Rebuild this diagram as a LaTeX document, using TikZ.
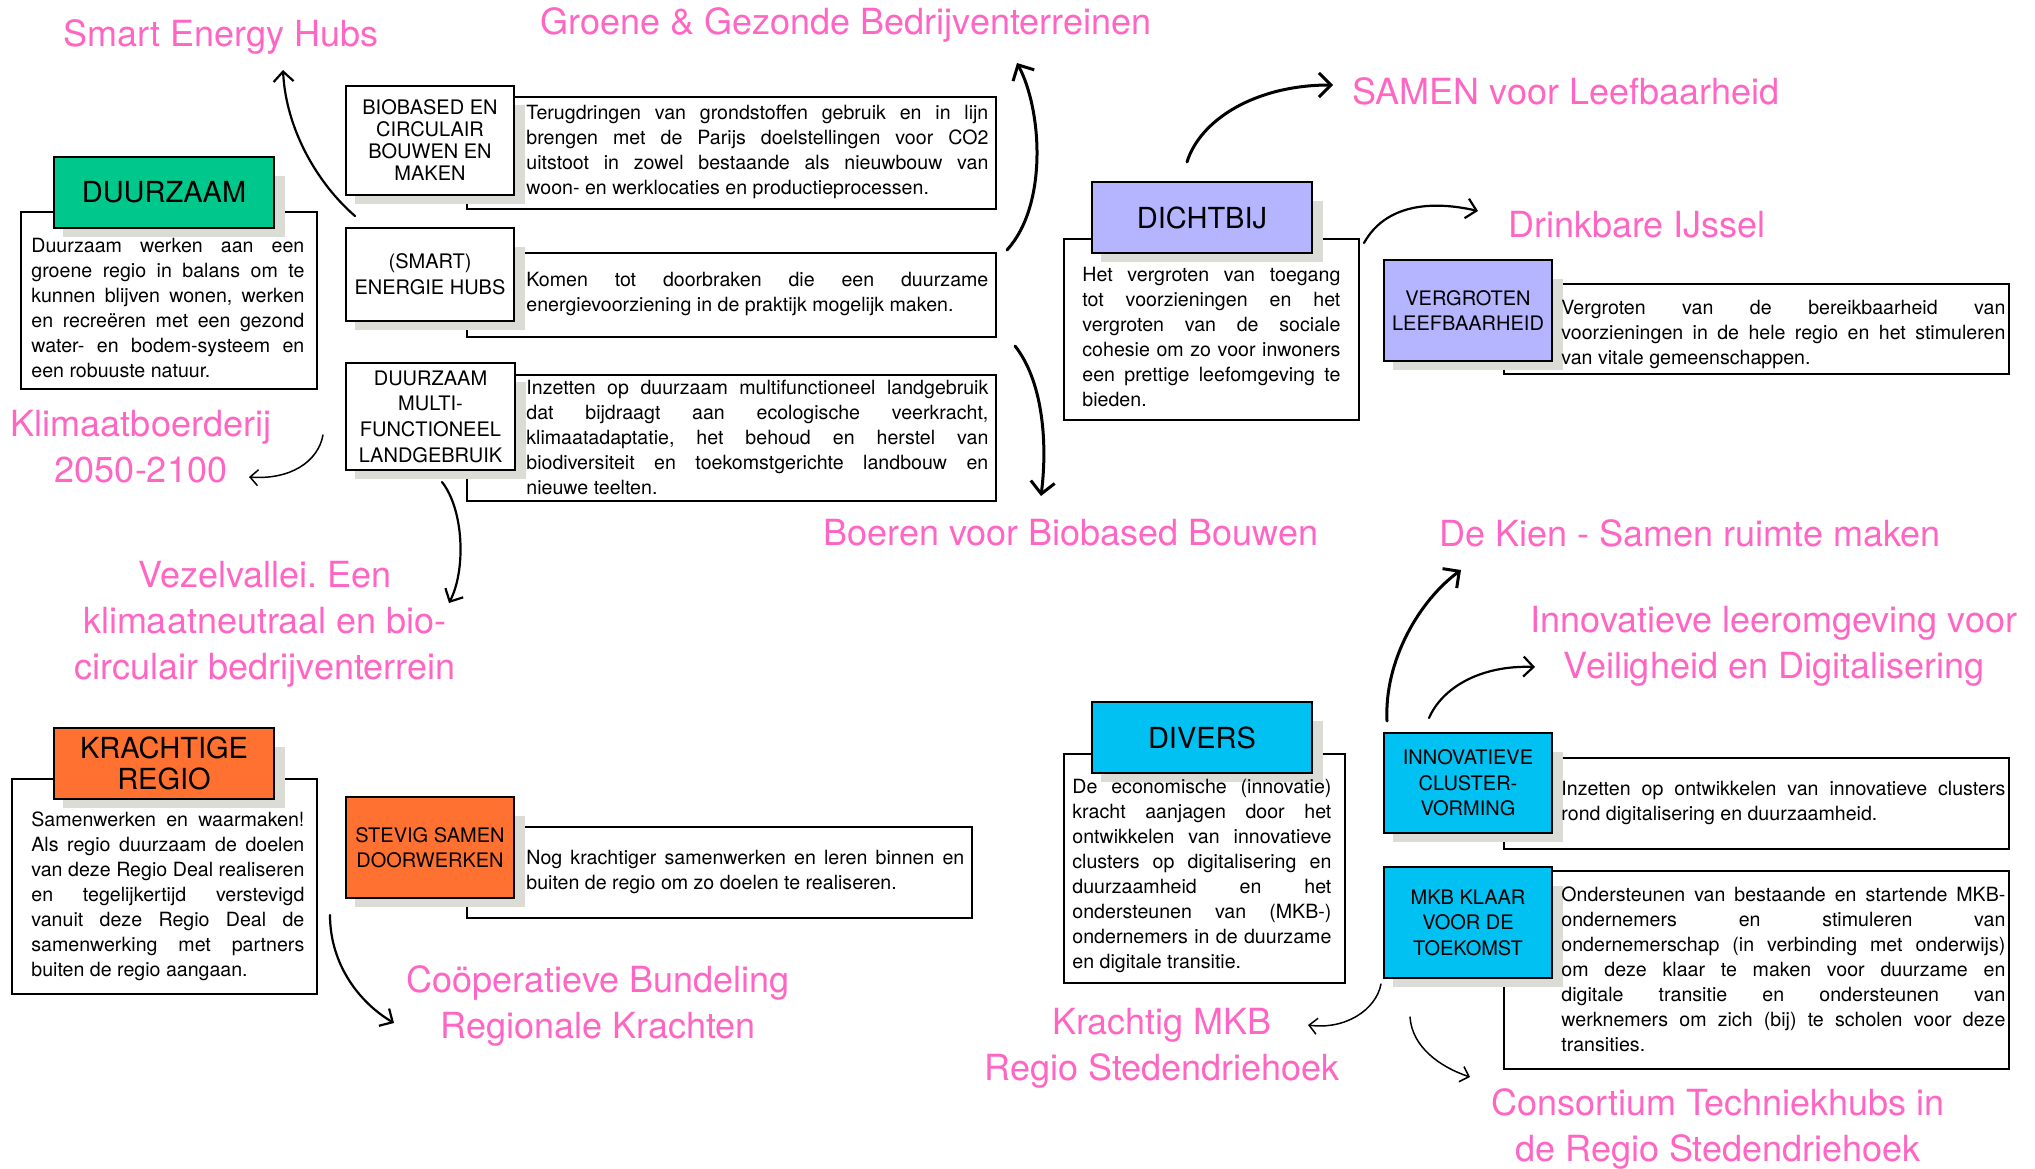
\documentclass[tikz,border=0pt]{standalone}
\usepackage{fontspec}
\setmainfont{TeX Gyre Heros}
\usepackage{tikz}
\usetikzlibrary{positioning,arrows.meta,calc}
\definecolor{roze}{HTML}{FF66C4}
\definecolor{groen}{HTML}{00C78C}
\definecolor{lila}{HTML}{B4B4FF}
\definecolor{blauw}{HTML}{00C1F2}
\definecolor{oranje}{HTML}{FF7130}
\definecolor{schaduw}{HTML}{DCDCD6}
\pgfdeclarelayer{back}
\pgfdeclarelayer{shade}
\pgfsetlayers{back,shade,main}
\tolerance=9999
\hyphenpenalty=10000
\exhyphenpenalty=10000
\frenchspacing

\begin{document}
\begin{tikzpicture}[x=0.5pt,y=0.5pt,
  theme/.style={
    draw=black,
    line width=1pt,
    anchor=north west,
    inner sep=0pt,
    align=center,
    font=\fontsize{14.5}{15.5}\selectfont,
    minimum width=110pt,
    minimum height=35.5pt,
    },
  topic/.style={theme,fill=white,font=\fontsize{10}{12.8}\selectfont,minimum width=84pt},
  txtframe/.style={draw=black,line width=1.1pt,fill=white,anchor=north west,inner sep=0pt},
  bodytxt/.style={align=justify,anchor=west,inner sep=0pt,font=\fontsize{9.8}{12.5}\selectfont},
  doel/.style={text=roze,align=center,inner sep=0pt,font=\fontsize{18}{23}\selectfont},
  arrA/.style={-{Straight Barb[length=6pt,width=12pt]},line width=1.5pt,line cap=round,line join=round},
  arrB/.style={arrA,-{Straight Barb[length=5pt,width=10pt]},line width=1.1pt},
  arrC/.style={arrA,-{Straight Barb[length=4pt,width=8pt]},line width=.75pt},
  ]

  \useasboundingbox (0,0) rectangle (2035,-1168);

  % text frames behind the boxes
  \begin{pgfonlayer}{back}
  \node[txtframe, minimum width=148pt, minimum height=88.5pt] (duurzaamBox) at (20,-211) {};
  \node[txtframe, minimum width=152.5pt, minimum height=107.5pt] (krachtigBox) at (11,-778) {};
  \node[txtframe, minimum width=147.5pt, minimum height=90.5pt] (dichtbijBox) at (1063,-238) {};
  \node[txtframe, minimum width=140.5pt, minimum height=114.5pt] (diversBox) at (1063,-753) {};
  \node[txtframe, minimum width=264.5pt, minimum height=56pt] (biobasedBox) at (466,-96) {};
  \node[txtframe, minimum width=264.5pt, minimum height=42pt] (smartBox) at (466,-252) {};
  \node[txtframe, minimum width=264.5pt, minimum height=63pt] (multiBox) at (466,-374) {};
  \node[txtframe, minimum width=252.5pt, minimum height=45.5pt] (stevigBox) at (466,-826) {};
  \node[txtframe, minimum width=252.5pt, minimum height=45pt] (vergrotenBox) at (1503,-283) {};
  \node[txtframe, minimum width=252.5pt, minimum height=45.5pt] (innovBox) at (1503,-757) {};
  \node[txtframe, minimum width=252.5pt, minimum height=99pt] (mkbBox) at (1503,-870) {};
  \end{pgfonlayer}

  % themes
  \node[theme, fill=groen] (duurzaam) at (53,-156) {DUURZAAM};
  \node[theme, fill=oranje] (krachtig) at (53,-727) {KRACHTIGE\\REGIO};
  \node[theme, fill=lila] (dichtbij) at (1091,-181) {DICHTBIJ};
  \node[theme, fill=blauw] (divers) at (1091,-701) {DIVERS};

  % topics
  \node[topic, minimum height=54.5pt, font=\fontsize{10}{11}\selectfont] (biobased) at (345,-85) {BIOBASED EN\\CIRCULAIR\\BOUWEN EN\\MAKEN};
  \node[topic, minimum height=46.5pt] (smart) at (345,-227) {(SMART)\\ENERGIE HUBS};
  \node[topic, minimum height=53.5pt, minimum width=84.5pt] (multi) at (345,-362) {DUURZAAM\\MULTI-\\FUNCTIONEEL\\LANDGEBRUIK};
  \node[topic, fill=oranje, minimum height=50.5pt] (stevig) at (345,-796) {STEVIG SAMEN\\DOORWERKEN};
  \node[topic, fill=lila, minimum height=50.5pt] (vergroten) at (1383,-259) {VERGROTEN\\LEEFBAARHEID};
  \node[topic, fill=blauw, minimum height=50pt] (innov) at (1383,-732) {INNOVATIEVE\\CLUSTER-\\VORMING};
  \node[topic, fill=blauw, minimum height=55.5pt] (mkb) at (1383,-866) {MKB KLAAR\\VOOR DE\\TOEKOMST};

  \begin{pgfonlayer}{shade}
  \foreach \n in {duurzaam,krachtig,dichtbij,divers,biobased,smart,multi,stevig,vergroten,innov,mkb}
    \fill[schaduw] ([shift={(10,-20)}]\n.north west) rectangle ([shift={(10,-8)}]\n.south east);
  \end{pgfonlayer}

  % texts
  \node[bodytxt, text width=136.5pt] (duurzaamTxt) at (31,-308) {Duurzaam werken aan een\linebreak groene regio in balans om te\linebreak kunnen blijven wonen, werken\linebreak en recreëren met een gezond\linebreak water- en bodem-systeem en\linebreak een robuuste natuur.};
  \node[bodytxt, text width=136.5pt] (krachtigTxt) at (31,-896) {Samenwerken en waarmaken!\linebreak Als regio duurzaam de doelen\linebreak van deze Regio Deal realiseren\linebreak en tegelijkertijd verstevigd\linebreak vanuit deze Regio Deal de\linebreak samenwerking met partners\linebreak buiten de regio aangaan.};
  \node[bodytxt, text width=129pt] (dichtbijTxt) at (1082,-337) {Het vergroten van toegang\linebreak tot voorzieningen en het\linebreak vergroten van de sociale\linebreak cohesie om zo voor inwoners\linebreak een prettige leefomgeving te\linebreak bieden.};
  \node[bodytxt, text width=129.5pt] (diversTxt) at (1072,-876) {De economische (innovatie)\linebreak kracht aanjagen door het\linebreak ontwikkelen van innovatieve\linebreak clusters op digitalisering en\linebreak duurzaamheid en het\linebreak ondersteunen van (MKB-)\linebreak ondernemers in de duurzame\linebreak en digitale transitie.};
  \node[bodytxt, text width=231pt] (biobasedTxt) at (526,-152) {Terugdringen van grondstoffen gebruik en in lijn\linebreak brengen met de Parijs doelstellingen voor CO2\linebreak uitstoot in zowel bestaande als nieuwbouw van\linebreak woon- en werklocaties en productieprocessen.};
  \node[bodytxt, text width=231pt] (smartTxt) at (526,-294) {Komen tot doorbraken die een duurzame\linebreak energievoorziening in de praktijk mogelijk maken.};
  \node[bodytxt, text width=231pt] (multiTxt) at (526,-437) {Inzetten op duurzaam multifunctioneel landgebruik\linebreak dat bijdraagt aan ecologische veerkracht,\linebreak klimaatadaptatie, het behoud en herstel van\linebreak biodiversiteit en toekomstgerichte landbouw en\linebreak nieuwe teelten.};
  \node[bodytxt, text width=219pt] (stevigTxt) at (526,-872) {Nog krachtiger samenwerken en leren binnen en\linebreak buiten de regio om zo doelen te realiseren.};
  \node[bodytxt, text width=222pt] (vergrotenTxt) at (1561,-334) {Vergroten van de bereikbaarheid van\linebreak voorzieningen in de hele regio en het stimuleren\linebreak van vitale gemeenschappen.};
  \node[bodytxt, text width=222pt] (innovTxt) at (1561,-803) {Inzetten op ontwikkelen van innovatieve clusters\linebreak rond digitalisering en duurzaamheid.};
  \node[bodytxt, text width=222pt] (mkbTxt) at (1561,-969) {Ondersteunen van bestaande en startende MKB-\linebreak ondernemers en stimuleren van\linebreak ondernemerschap (in verbinding met onderwijs)\linebreak om deze klaar te maken voor duurzame en\linebreak digitale transitie en ondersteunen van\linebreak werknemers om zich (bij) te scholen voor deze\linebreak transities.};

  % projects
  \node[doel] (sehubs) at (221,-37) {Smart Energy Hubs};
  \node[doel] (groene) at (846,-25) {Groene \& Gezonde Bedrijventerreinen};
  \node[doel] (samen) at (1566,-91) {SAMEN voor Leefbaarheid};
  \node[doel] (drinkbaar) at (1637,-225) {Drinkbare IJssel};
  \node[doel] (klimaat) at (141,-447) {Klimaatboerderij\\2050-2100};
  \node[doel] (vezel) at (265,-624) {Vezelvallei. Een\\klimaatneutraal en bio-\\circulair bedrijventerrein};
  \node[doel] (coop) at (598,-1006) {Coöperatieve Bundeling\\Regionale Krachten};
  \node[doel] (boeren) at (1071,-533) {Boeren voor Biobased Bouwen};
  \node[doel] (kien) at (1690,-533) {De Kien - Samen ruimte maken};
  \node[doel] (leer) at (1774,-646) {Innovatieve leeromgeving voor\\Veiligheid en Digitalisering};
  \node[doel] (mkbdoel) at (1162,-1048) {Krachtig MKB\\Regio Stedendriehoek};
  \node[doel] (techniek) at (1718,-1129) {Consortium Techniekhubs in\\de Regio Stedendriehoek};

  % arrows
  \coordinate (sehT) at (355,-216);   \coordinate (sehH) at (283,-70);
  \coordinate (groeneT) at (1007,-250); \coordinate (groeneH) at (1017,-63);
  \coordinate (samenT) at (1187,-162); \coordinate (samenH) at (1333,-85);
  \coordinate (drinkT) at (1364,-243); \coordinate (drinkH) at (1478,-211);
  \coordinate (boerenT) at (1015,-346); \coordinate (boerenH) at (1041,-496);
  \coordinate (klimT) at (323,-435);  \coordinate (klimH) at (249,-477);
  \coordinate (vezelT) at (442,-482); \coordinate (vezelH) at (449,-603);
  \coordinate (coopT) at (330,-915);  \coordinate (coopH) at (394,-1023);
  \coordinate (kienT) at (1387,-721); \coordinate (kienH) at (1461,-570);
  \coordinate (leerT) at (1429,-718); \coordinate (leerH) at (1535,-667);
  \coordinate (mkbT) at (1381,-984);  \coordinate (mkbH) at (1308,-1025);
  \coordinate (techT) at (1410,-1017); \coordinate (techH) at (1470,-1077);

  \draw[arrB] (sehT) .. controls (318,-184) and (286,-130) .. (sehH);
  \draw[arrA] (groeneT) .. controls (1048,-205) and (1042,-110) .. (groeneH);
  \draw[arrA] (samenT) .. controls (1200,-120) and (1255,-85) .. (samenH);
  \draw[arrB] (drinkT) .. controls (1385,-205) and (1430,-200) .. (drinkH);
  \draw[arrA] (boerenT) .. controls (1042,-380) and (1048,-440) .. (boerenH);
  \draw[arrC] (klimT) .. controls (318,-462) and (290,-480) .. (klimH);
  \draw[arrB] (vezelT) .. controls (464,-510) and (466,-570) .. (vezelH);
  \draw[arrB] (coopT) .. controls (330,-965) and (360,-1003) .. (coopH);
  \draw[arrA] (kienT) .. controls (1384,-660) and (1420,-600) .. (kienH);
  \draw[arrB] (leerT) .. controls (1442,-688) and (1480,-665) .. (leerH);
  \draw[arrC] (mkbT) .. controls (1376,-1010) and (1345,-1030) .. (mkbH);
  \draw[arrC] (techT) .. controls (1412,-1047) and (1440,-1067) .. (techH);

\end{tikzpicture}
\end{document}
